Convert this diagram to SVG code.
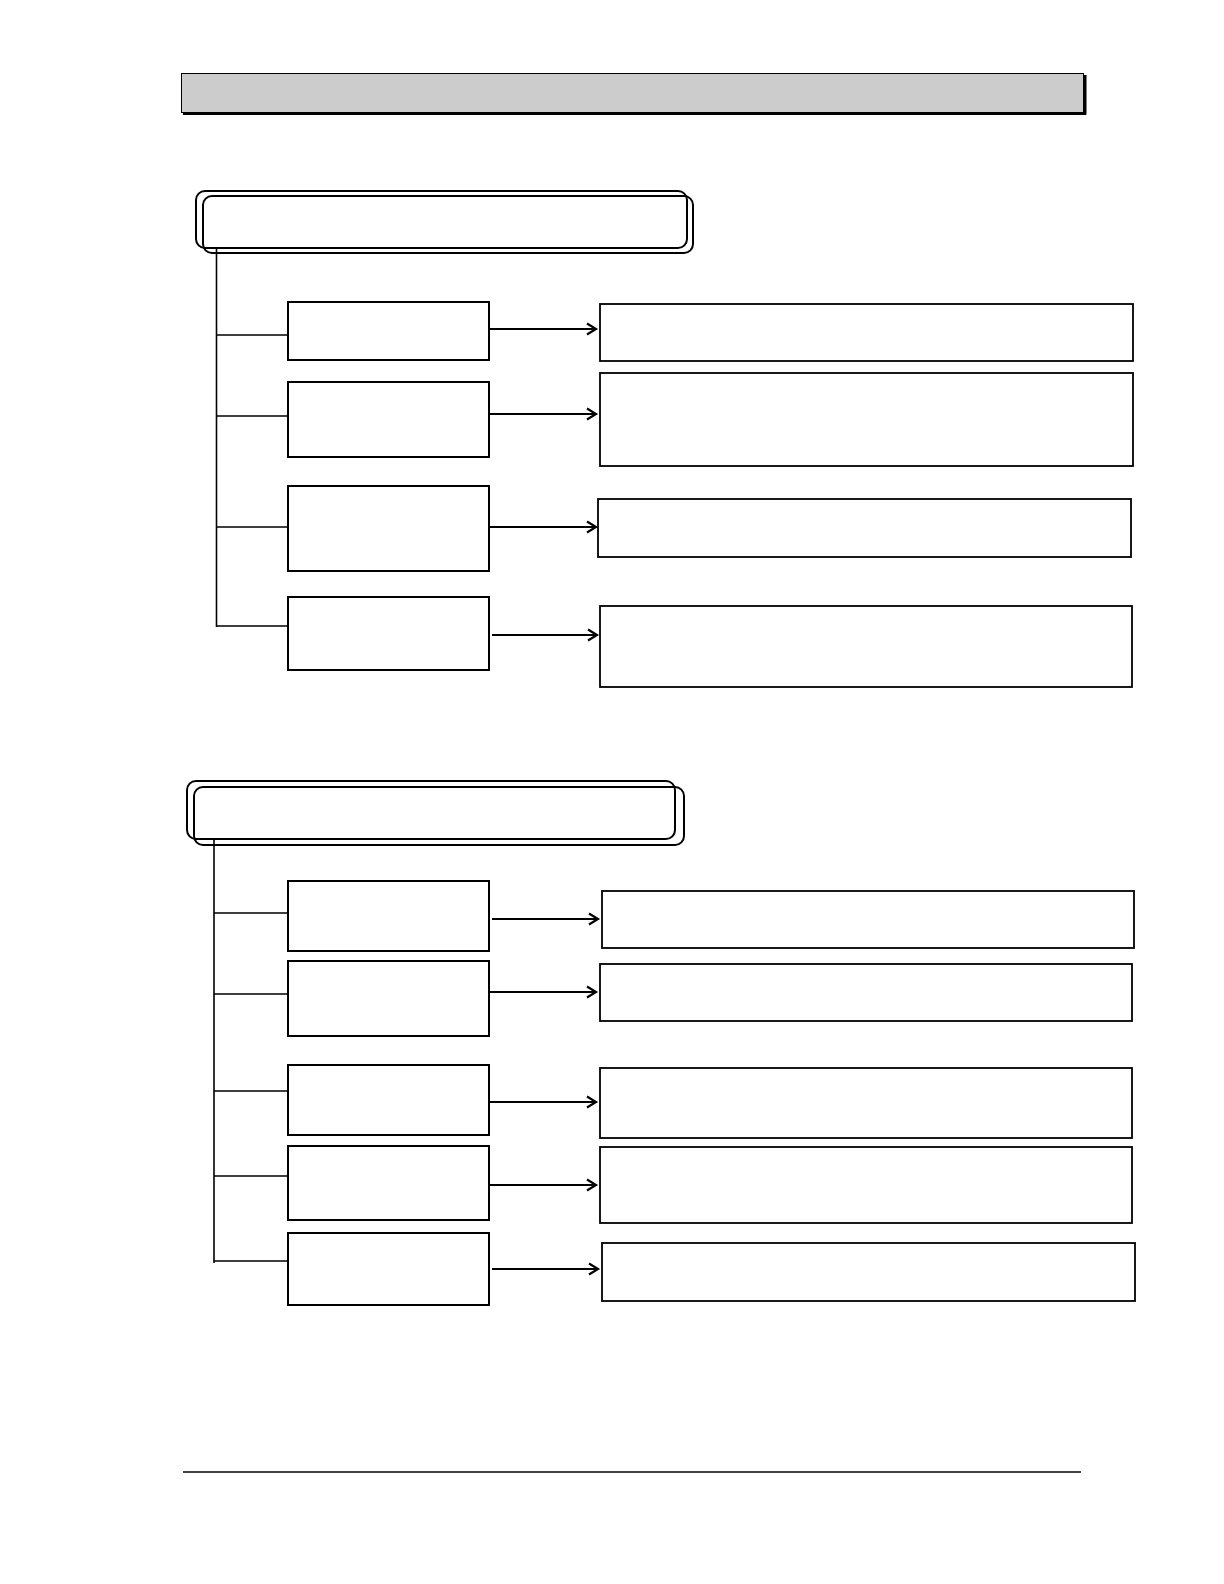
<svg xmlns="http://www.w3.org/2000/svg" width="1224" height="1584" viewBox="0 0 1224 1584">
<style>
.box{fill:#fff;stroke:#000;stroke-width:2}
.rbox{fill:#fff;stroke:#000;stroke-width:1.8}
.rnd{fill:none;stroke:#000;stroke-width:2}
.ln{fill:none;stroke:#000;stroke-width:1.6}
.arr{fill:none;stroke:#000;stroke-width:2;marker-end:url(#ah)}
</style>
<defs>
<marker id="ah" markerUnits="userSpaceOnUse" markerWidth="14" markerHeight="14" refX="10" refY="7" orient="auto">
<path d="M1,1.5 L10,7 L1,12.5" fill="none" stroke="#000" stroke-width="2.2"/>
</marker>
</defs>
<rect width="1224" height="1584" fill="#fff"/>
<g id="header">
<rect x="181.5" y="73.5" width="902" height="39" fill="#cccccc" stroke="#000" stroke-width="1"/>
<path d="M183,113.5 H1086 M1085,75 V114.5" fill="none" stroke="#000" stroke-width="3"/>
</g>
<g id="group1-title">
<rect class="rnd" x="196" y="191" width="491" height="57" rx="9"/>
<rect class="rnd" x="203" y="196" width="490" height="57" rx="9"/>
</g>
<g id="g1-l1"><rect class="box" x="288" y="302" width="201" height="58"/></g>
<g id="g1-l2"><rect class="box" x="288" y="382" width="201" height="75"/></g>
<g id="g1-l3"><rect class="box" x="288" y="486" width="201" height="85"/></g>
<g id="g1-l4"><rect class="box" x="288" y="597" width="201" height="73"/></g>
<g id="g1-r1"><rect class="rbox" x="600" y="304" width="533" height="57"/></g>
<g id="g1-r2"><rect class="rbox" x="600" y="373" width="533" height="93"/></g>
<g id="g1-r3"><rect class="rbox" x="598" y="499" width="533" height="58"/></g>
<g id="g1-r4"><rect class="rbox" x="600" y="606" width="532" height="81"/></g>
<g id="group2-title">
<rect class="rnd" x="187" y="781" width="488" height="58" rx="9"/>
<rect class="rnd" x="194" y="787" width="490" height="58" rx="9"/>
</g>
<g id="g2-l1"><rect class="box" x="288" y="881" width="201" height="70"/></g>
<g id="g2-l2"><rect class="box" x="288" y="961" width="201" height="75"/></g>
<g id="g2-l3"><rect class="box" x="288" y="1065" width="201" height="70"/></g>
<g id="g2-l4"><rect class="box" x="288" y="1146" width="201" height="74"/></g>
<g id="g2-l5"><rect class="box" x="288" y="1233" width="201" height="72"/></g>
<g id="g2-r1"><rect class="rbox" x="602" y="891" width="532" height="57"/></g>
<g id="g2-r2"><rect class="rbox" x="600" y="964" width="532" height="57"/></g>
<g id="g2-r3"><rect class="rbox" x="600" y="1068" width="532" height="70"/></g>
<g id="g2-r4"><rect class="rbox" x="600" y="1147" width="532" height="76"/></g>
<g id="g2-r5"><rect class="rbox" x="602" y="1243" width="533" height="58"/></g>
<g id="connectors">
<path class="ln" d="M216.5,249 V627"/>
<path class="ln" d="M216,335 H288 M216,416 H288 M216,527 H288 M216,626 H288"/>
<path class="arr" d="M490,329 H596"/>
<path class="arr" d="M490,414 H596"/>
<path class="arr" d="M490,527 H596"/>
<path class="arr" d="M492,635 H597"/>
<path class="ln" d="M214,840 V1263"/>
<path class="ln" d="M214,913 H288 M214,994 H288 M214,1091 H288 M214,1176 H288 M214,1261 H288"/>
<path class="arr" d="M492,919 H598"/>
<path class="arr" d="M490,992 H596"/>
<path class="arr" d="M490,1102 H596"/>
<path class="arr" d="M489,1185 H596"/>
<path class="arr" d="M492,1269 H598"/>
</g>
<g id="footer">
<path d="M183,1472 H1081" stroke="#000" stroke-width="1.4"/>
</g>
</svg>
